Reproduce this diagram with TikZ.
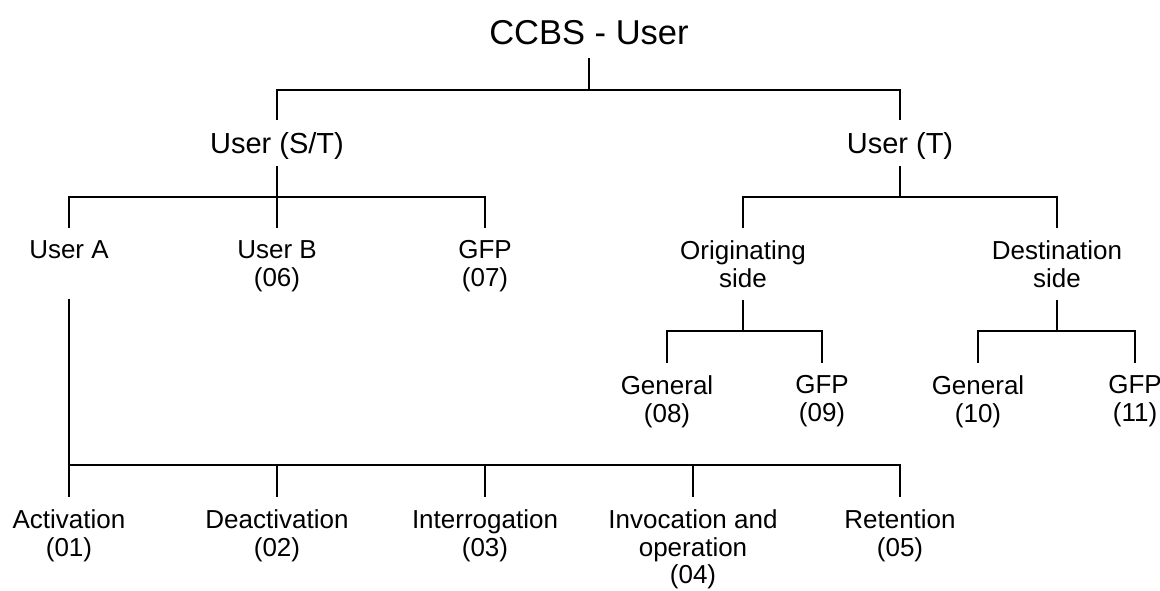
\documentclass[tikz,border=0pt]{standalone}
\usepackage{fontspec}
\setmainfont{Liberation Sans}

\begin{document}
\begin{tikzpicture}[x=1pt,y=-1pt,line width=1.4pt,
    every node/.style={align=center,inner xsep=2pt,inner ysep=12pt,anchor=north,
      font=\fontsize{26}{27.5}\selectfont},
    big/.style={font=\fontsize{34.5}{40}\selectfont,anchor=south},
    mid/.style={font=\fontsize{29}{33}\selectfont,text depth=0pt},
    branch/.style={to path={(\tikztostart.south) -- (\tikztostart.south |- 0,#1) -| (\tikztotarget)}}]
  \useasboundingbox (0,0) rectangle (1160,590);

  \node[big] (ccbs) at (589,58) {CCBS - User};
  \node[mid] (u_st) at (277,120) {User (S/T)};
  \node[mid] (u_t) at (900,120) {User (T)};

  \node[text depth=27.5pt] (u_a) at (69,228) {User A};
  \node (u_b) at (277,228) {User B\\(06)};
  \node (gfp_st) at (485,228) {GFP\\(07)};
  \node (orig) at (743,228) {Originating\\side};
  \node (dest) at (1057,228) {Destination\\side};

  \node (gen_o) at (667,363) {General\\(08)};
  \node (gfp_o) at (822,363) {GFP\\(09)};
  \node (gen_d) at (978,363) {General\\(10)};
  \node (gfp_d) at (1135,363) {GFP\\(11)};

  \node (act) at (69,497) {Activation\\(01)};
  \node (deact) at (277,497) {Deactivation\\(02)};
  \node (inter) at (485,497) {Interrogation\\(03)};
  \node (invoc) at (693,497) {Invocation and\\operation\\(04)};
  \node (ret) at (900,497) {Retention\\(05)};

  \path (ccbs) edge[branch=90] (u_st)
               edge[branch=90] (u_t)
        (u_st) edge[branch=197] (u_a)
               edge[branch=197] (u_b)
               edge[branch=197] (gfp_st)
        (u_t)  edge[branch=197] (orig)
               edge[branch=197] (dest)
        (orig) edge[branch=331] (gen_o)
               edge[branch=331] (gfp_o)
        (dest) edge[branch=331] (gen_d)
               edge[branch=331] (gfp_d)
        (u_a)  edge[branch=465] (act)
               edge[branch=465] (deact)
               edge[branch=465] (inter)
               edge[branch=465] (invoc)
               edge[branch=465] (ret);
\end{tikzpicture}
\end{document}
